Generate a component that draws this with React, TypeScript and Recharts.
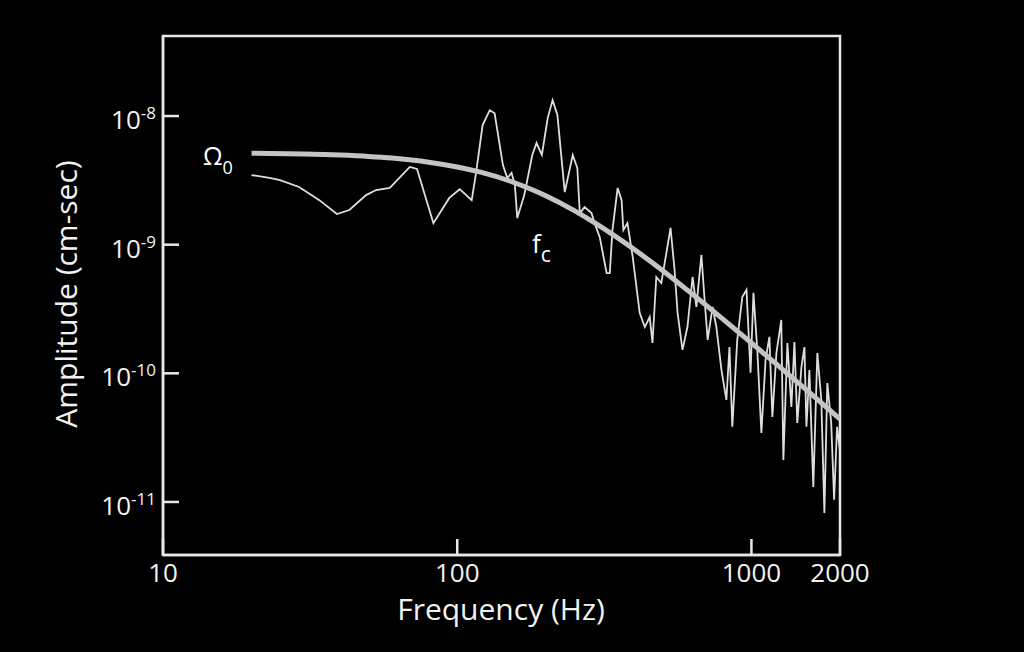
import { LineChart, Line, XAxis, YAxis, ReferenceArea } from 'recharts';

const FONT = '"Open Sans", "Noto Sans", sans-serif';

const freqTicks = [10, 100, 1000, 2000];
const ampTicks = [1e-8, 1e-9, 1e-10, 1e-11];
const freqDomain = [10, 2000];
const ampDomain = [3.87e-12, 4.19e-8];

// measured displacement spectrum (Hz, cm-sec)
const spectrumFreq = [
  20, 23, 25, 29, 34, 39, 43, 49, 53, 59, 69, 73, 83, 94, 102, 112, 116, 122, 129, 134,
  143, 148, 153, 157, 160, 169, 180, 186, 194, 203, 211, 219, 232, 247, 256, 261, 271, 286, 293, 305,
  322, 330, 337, 351, 362, 367, 379, 395, 417, 434, 451, 461, 475, 494, 514, 531, 548, 561, 583, 606,
  631, 650, 676, 692, 710, 738, 760, 791, 822, 842, 861, 895, 931, 962, 993, 1016, 1047, 1081, 1117, 1151,
  1178, 1216, 1263, 1284, 1325, 1367, 1400, 1432, 1479, 1514, 1538, 1574, 1623, 1675, 1728, 1770, 1811, 1867, 1910, 1955,
  2000,
];
const spectrumAmp = [
  3.48e-9, 3.3e-9, 3.18e-9, 2.81e-9, 2.22e-9, 1.73e-9, 1.86e-9, 2.43e-9, 2.66e-9, 2.76e-9,
  4.02e-9, 3.88e-9, 1.47e-9, 2.31e-9, 2.7e-9, 2.22e-9, 3.67e-9, 8.5e-9, 1.11e-8, 1.05e-8,
  4.16e-9, 3.3e-9, 3.61e-9, 2.91e-9, 1.61e-9, 2.43e-9, 4.98e-9, 6.17e-9, 4.98e-9, 9.64e-9,
  1.33e-8, 1.02e-8, 2.56e-9, 4.98e-9, 3.94e-9, 1.76e-9, 1.96e-9, 1.76e-9, 1.47e-9, 1.15e-9,
  6.0e-10, 6.0e-10, 1.3e-9, 2.76e-9, 2.22e-9, 1.3e-9, 1.47e-9, 8.0e-10, 2.95e-10, 2.29e-10,
  2.74e-10, 1.72e-10, 5.61e-10, 5.04e-10, 8.63e-10, 1.35e-9, 6.36e-10, 2.95e-10, 1.52e-10, 2.29e-10,
  5.61e-10, 3.28e-10, 8.32e-10, 3.92e-10, 1.82e-10, 3.28e-10, 2.29e-10, 1.06e-10, 6.21e-11, 1.6e-10,
  3.84e-11, 1.82e-10, 3.92e-10, 4.45e-10, 1.01e-10, 4.22e-10, 1.52e-10, 3.44e-11, 1.27e-10, 1.92e-10,
  4.58e-11, 1.44e-10, 2.6e-10, 2.12e-11, 1.72e-10, 5.48e-11, 1.75e-10, 4.12e-11, 1.12e-10, 1.6e-10,
  3.84e-11, 1.06e-10, 1.31e-11, 1.44e-10, 6.21e-11, 8.2e-12, 8.41e-11, 4.12e-11, 1.04e-11, 3.84e-11,
  2.5e-11,
];

// fitted source model curve
const modelFreq = [20, 30, 40, 50, 60, 70, 80, 100, 120, 150, 180, 200, 250, 300, 400, 500, 600, 800, 1000, 1200, 1500, 2000];
const modelAmp = [
  5.14e-9, 5.07e-9, 4.97e-9, 4.85e-9, 4.71e-9, 4.55e-9, 4.38e-9, 4.02e-9, 3.66e-9, 3.14e-9, 2.67e-9,
  2.4e-9, 1.84e-9, 1.43e-9, 9.16e-10, 6.27e-10, 4.51e-10, 2.64e-10, 1.72e-10, 1.21e-10, 7.8e-11, 4.41e-11,
];

const spectrum = spectrumFreq.map((f, i) => ({ f, amp: spectrumAmp[i] }));
const model = modelFreq.map((f, i) => ({ f, amp: modelAmp[i] }));

const frameColor = '#e8e8e8';

const XTick = ({ x, y, payload }: any) => (
  <text x={x} y={y + 27} textAnchor="middle" fill="#f2f2f2" fontSize={26} fontFamily={FONT}>
    {payload.value}
  </text>
);

const YTick = ({ x, y, payload }: any) => {
  const exp = Math.round(Math.log10(payload.value));
  return (
    <text x={x - 7} y={y + 13} textAnchor="end" fill="#f2f2f2" fontSize={26} fontFamily={FONT}>
      10
      <tspan dy={-10} fontSize={17}>{exp}</tspan>
    </text>
  );
};

export default function App() {
  return (
    <div style={{ position: 'fixed', left: 0, top: 0, width: 1024, height: 652, background: '#000' }}>
      <LineChart width={1024} height={652} margin={{ top: 36, right: 184, bottom: 0, left: 0 }}>
        <XAxis
          dataKey="f"
          type="number"
          scale="log"
          domain={freqDomain}
          allowDataOverflow
          ticks={freqTicks}
          height={97}
          tickSize={-16}
          tickMargin={16}
          tickLine={{ stroke: frameColor, strokeWidth: 2.5 }}
          axisLine={{ stroke: frameColor, strokeWidth: 2.5 }}
          tick={<XTick />}
        />
        <YAxis
          type="number"
          scale="log"
          domain={ampDomain}
          allowDataOverflow
          ticks={ampTicks}
          width={163}
          tickSize={-16}
          tickMargin={16}
          tickLine={{ stroke: frameColor, strokeWidth: 2.5 }}
          axisLine={{ stroke: frameColor, strokeWidth: 2.5 }}
          tick={<YTick />}
        />
        <ReferenceArea
          x1={freqDomain[0]}
          x2={freqDomain[1]}
          y1={ampDomain[0]}
          y2={ampDomain[1]}
          fill="none"
          stroke={frameColor}
          strokeWidth={2.5}
          ifOverflow="visible"
        />
        <Line
          data={spectrum}
          dataKey="amp"
          type="linear"
          stroke="#dedede"
          strokeWidth={1.8}
          dot={false}
          isAnimationActive={false}
        />
        <Line
          data={model}
          dataKey="amp"
          type="monotone"
          stroke="#c4c4c4"
          strokeWidth={5}
          dot={false}
          isAnimationActive={false}
        />
      </LineChart>
      <svg width={1024} height={652} style={{ position: 'absolute', left: 0, top: 0, pointerEvents: 'none' }}>
        <text x={501} y={620} textAnchor="middle" fill="#f2f2f2" fontSize={30} fontFamily={FONT}>
          Frequency (Hz)
        </text>
        <text
          transform="translate(77,294) rotate(-90)"
          textAnchor="middle"
          fill="#f2f2f2"
          fontSize={30}
          fontFamily={FONT}
        >
          Amplitude (cm-sec)
        </text>
        <text x={203} y={165} fill="#fff" fontSize={25} fontFamily={FONT}>
          Ω<tspan dy={9} fontSize={18}>0</tspan>
        </text>
        <text x={532} y={253} fill="#fff" fontSize={26} fontFamily={FONT}>
          f<tspan dy={9} fontSize={21}>c</tspan>
        </text>
      </svg>
    </div>
  );
}
